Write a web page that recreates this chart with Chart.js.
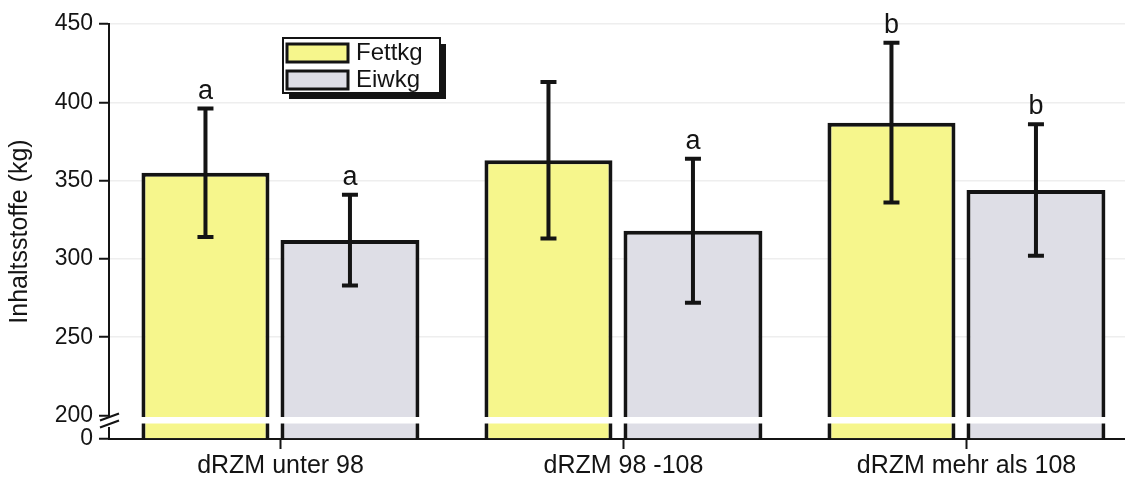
<!DOCTYPE html>
<html><head><meta charset="utf-8">
<script src="https://cdn.jsdelivr.net/npm/chart.js@4/dist/chart.umd.min.js"></script>
<style>
html,body{margin:0;padding:0;background:#fff;overflow:hidden;}
#wrap{position:relative;width:1140px;height:480px;}
</style></head><body>
<div id="wrap"><canvas id="c" width="1140" height="480"></canvas></div>
<script>
const categories = ['dRZM unter 98', 'dRZM 98 -108', 'dRZM mehr als 108'];
const seriesNames = ['Fettkg', 'Eiwkg'];
const fettValues = [355, 363, 387];
const fettErrors = [41, 50, 51];
const eiwValues = [312, 318, 344];
const eiwErrors = [29, 46, 42];
const fettLetters = ['a', '', 'b'];
const eiwLetters = ['a', 'a', 'b'];
const yTickLabels = [0, 200, 250, 300, 350, 400, 450];
const yTitle = 'Inhaltsstoffe (kg)';

const BREAK_AT = 200;
const LOW_SPAN = 15;
function toAxis(v){ return v >= BREAK_AT ? v - BREAK_AT + LOW_SPAN : v * LOW_SPAN / BREAK_AT; }
function fromAxis(s){ return s >= LOW_SPAN ? s - LOW_SPAN + BREAK_AT : s * BREAK_AT / LOW_SPAN; }

const FONT = "'Liberation Sans', Arial, sans-serif";
const INK = '#141414';
const YELLOW = '#f6f68c';
const GREY = '#dedee6';

const errorPlugin = {
  id: 'errs',
  afterDatasetsDraw(chart){
    const ctx = chart.ctx, y = chart.scales.y;
    chart.data.datasets.forEach((ds, di) => {
      const meta = chart.getDatasetMeta(di);
      meta.data.forEach((bar, i) => {
        const v = ds.rawValues[i], e = ds.errors[i];
        const x = bar.x;
        const yT = y.getPixelForValue(toAxis(v + e));
        const yB = y.getPixelForValue(toAxis(v - e));
        ctx.save();
        ctx.strokeStyle = INK; ctx.lineWidth = 4;
        ctx.beginPath();
        ctx.moveTo(x, yT); ctx.lineTo(x, yB);
        ctx.moveTo(x - 8, yT); ctx.lineTo(x + 8, yT);
        ctx.moveTo(x - 8, yB); ctx.lineTo(x + 8, yB);
        ctx.stroke();
        const letter = ds.letters[i];
        if (letter) {
          ctx.fillStyle = INK;
          ctx.font = '27px ' + FONT;
          ctx.textAlign = 'center';
          ctx.textBaseline = 'alphabetic';
          ctx.fillText(letter, x, yT - 10);
        }
        ctx.restore();
      });
    });
  }
};

const breakPlugin = {
  id: 'brk',
  afterDraw(chart){
    const ctx = chart.ctx, y = chart.scales.y, a = chart.chartArea;
    const p200 = y.getPixelForValue(LOW_SPAN);
    const bTop = p200 + 1.5, bBot = p200 + 8;
    ctx.save();
    ctx.fillStyle = '#fff';
    ctx.fillRect(a.left + 2, bTop, a.right - a.left, bBot - bTop);
    ctx.fillRect(a.left - 2, p200 + 1.5, 4, 10);
    ctx.strokeStyle = INK; ctx.lineWidth = 2.2;
    ctx.beginPath();
    ctx.moveTo(a.left - 9, p200 + 5); ctx.lineTo(a.left + 10, p200 - 2);
    ctx.moveTo(a.left - 9, p200 + 12); ctx.lineTo(a.left + 10, p200 + 5);
    ctx.stroke();
    ctx.restore();
  }
};

const legendPlugin = {
  id: 'lgd',
  afterDraw(chart){
    const ctx = chart.ctx, a = chart.chartArea;
    const x0 = a.left + 174, y0 = a.top + 14, w = 157, h = 55;
    ctx.save();
    ctx.fillStyle = INK;
    ctx.fillRect(x0 + 6, y0 + 6, w, h);
    ctx.fillStyle = '#fff';
    ctx.fillRect(x0, y0, w, h);
    ctx.strokeStyle = INK; ctx.lineWidth = 2;
    ctx.strokeRect(x0, y0, w, h);
    chart.data.datasets.forEach((ds, i) => {
      const sy = y0 + 6 + i * 27;
      ctx.fillStyle = ds.backgroundColor;
      ctx.fillRect(x0 + 4, sy, 61, 18);
      ctx.strokeStyle = INK; ctx.lineWidth = 3;
      ctx.strokeRect(x0 + 4, sy, 61, 18);
      ctx.fillStyle = INK;
      ctx.font = '24px ' + FONT;
      ctx.textAlign = 'left'; ctx.textBaseline = 'middle';
      ctx.fillText(ds.label, x0 + 73, sy + 9);
    });
    ctx.restore();
  }
};

new Chart(document.getElementById('c'), {
  type: 'bar',
  data: {
    labels: categories,
    datasets: [
      { label: seriesNames[0], data: fettValues.map(toAxis), rawValues: fettValues, errors: fettErrors, letters: fettLetters,
        backgroundColor: YELLOW, borderColor: INK, borderWidth: 4, categoryPercentage: 0.875, barPercentage: 0.853 },
      { label: seriesNames[1], data: eiwValues.map(toAxis), rawValues: eiwValues, errors: eiwErrors, letters: eiwLetters,
        backgroundColor: GREY, borderColor: INK, borderWidth: 4, categoryPercentage: 0.81, barPercentage: 1.0 }
    ]
  },
  options: {
    responsive: false,
    animation: false,
    layout: { padding: { left: 0, right: 2, top: 24, bottom: 0 } },
    plugins: { legend: { display: false }, tooltip: { enabled: false } },
    scales: {
      x: {
        type: 'category', offset: true,
        afterFit: (s) => { s.height = 41; },
        grid: { display: true, drawOnChartArea: false, drawTicks: true, tickLength: 10, color: INK, tickWidth: 2, offset: false },
        border: { display: true, color: INK, width: 2 },
        ticks: { font: { family: FONT, size: 25 }, color: INK, padding: 2, maxRotation: 0 }
      },
      y: {
        min: 0, max: toAxis(450),
        afterFit: (s) => { s.width = 109; },
        afterBuildTicks: (s) => { s.ticks = yTickLabels.map(v => ({ value: toAxis(v) })); },
        ticks: { callback: (val) => String(Math.round(fromAxis(val))), font: { family: FONT, size: 23 }, color: INK, padding: 6, autoSkip: false },
        grid: { color: (c) => (c.tick && c.tick.value >= toAxis(250)) ? '#eeeeee' : 'rgba(0,0,0,0)', lineWidth: 1.5, tickColor: INK, tickWidth: 2, tickLength: 10, drawTicks: true },
        border: { display: true, color: INK, width: 2 },
        title: { display: true, text: yTitle, font: { family: FONT, size: 25 }, color: INK, padding: { top: 5, bottom: 0 } }
      }
    }
  },
  plugins: [errorPlugin, breakPlugin, legendPlugin]
});
</script>
</body></html>
